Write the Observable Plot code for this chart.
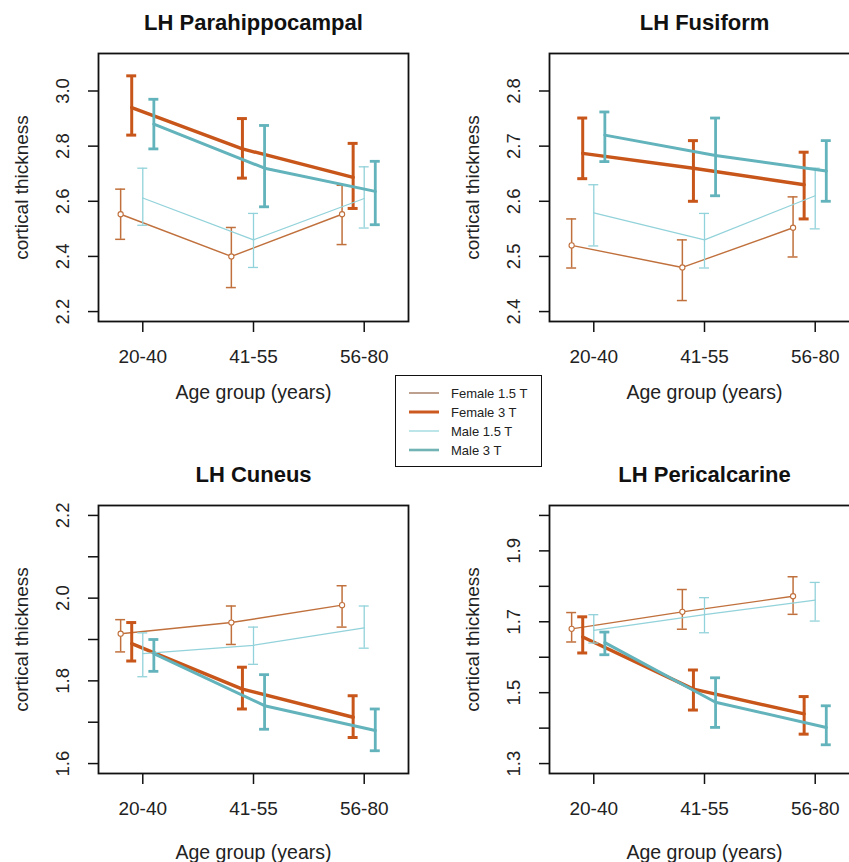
<!DOCTYPE html>
<html>
<head>
<meta charset="utf-8">
<script src="https://cdn.jsdelivr.net/npm/d3@7"></script>
<script src="https://cdn.jsdelivr.net/npm/@observablehq/plot@0.6"></script>
<style>
  html, body { margin: 0; padding: 0; background: #fff; }
  #root { position: relative; width: 849px; height: 862px; overflow: hidden; background: #fff;
          font-family: "Liberation Sans", Arial, sans-serif; }
  .panel { position: absolute; width: 430px; height: 410px; }
  .panel svg { max-width: none !important; }
  #legend { position: absolute; left: 395px; top: 375px; width: 145px; height: 90px;
            border: 1.5px solid #111; background: #fff; }
</style>
</head>
<body>
<div id="root"></div>
<script>
// ---------- data ----------
const categories = ["20-40", "41-55", "56-80"];
const seriesNames = ["Female 1.5 T", "Female 3 T", "Male 1.5 T", "Male 3 T"];
const seriesColors = ["#c0703c", "#c8561a", "#92d2da", "#62b3bb"];
const regionTitles = ["LH Parahippocampal", "LH Fusiform", "LH Cuneus", "LH Pericalcarine"];

// rows: Female 1.5 T, Female 3 T, Male 1.5 T, Male 3 T ; columns: age groups
const parahippocampalMean = [[2.553, 2.400, 2.553], [2.940, 2.790, 2.687], [2.612, 2.460, 2.610], [2.880, 2.720, 2.636]];
const parahippocampalLow  = [[2.462, 2.287, 2.443], [2.840, 2.684, 2.574], [2.513, 2.360, 2.503], [2.790, 2.580, 2.515]];
const parahippocampalHigh = [[2.644, 2.505, 2.658], [3.055, 2.900, 2.810], [2.720, 2.556, 2.725], [2.970, 2.875, 2.745]];

const fusiformMean = [[2.520, 2.480, 2.552], [2.687, 2.660, 2.630], [2.579, 2.530, 2.610], [2.720, 2.683, 2.655]];
const fusiformLow  = [[2.479, 2.420, 2.499], [2.641, 2.600, 2.568], [2.519, 2.479, 2.550], [2.672, 2.610, 2.600]];
const fusiformHigh = [[2.568, 2.530, 2.608], [2.751, 2.710, 2.689], [2.630, 2.578, 2.660], [2.762, 2.751, 2.710]];

const cuneusMean = [[1.914, 1.941, 1.983], [1.890, 1.780, 1.712], [1.866, 1.886, 1.928], [1.866, 1.740, 1.680]];
const cuneusLow  = [[1.870, 1.888, 1.930], [1.848, 1.732, 1.663], [1.810, 1.840, 1.879], [1.823, 1.683, 1.631]];
const cuneusHigh = [[1.948, 1.981, 2.030], [1.941, 1.833, 1.764], [1.916, 1.930, 1.981], [1.900, 1.815, 1.732]];

const pericalcarineMean = [[1.680, 1.728, 1.772], [1.657, 1.510, 1.440], [1.676, 1.720, 1.761], [1.641, 1.473, 1.402]];
const pericalcarineLow  = [[1.643, 1.679, 1.721], [1.612, 1.451, 1.383], [1.640, 1.669, 1.702], [1.607, 1.402, 1.353]];
const pericalcarineHigh = [[1.726, 1.791, 1.827], [1.714, 1.564, 1.489], [1.720, 1.768, 1.811], [1.671, 1.542, 1.463]];

const parahippocampalTicks = [2.2, 2.4, 2.6, 2.8, 3.0];
const parahippocampalTickLabels = [2.2, 2.4, 2.6, 2.8, 3.0];
const fusiformTicks = [2.4, 2.5, 2.6, 2.7, 2.8];
const fusiformTickLabels = [2.4, 2.5, 2.6, 2.7, 2.8];
const cuneusTicks = [1.6, 1.7, 1.8, 1.9, 2.0, 2.1, 2.2];
const cuneusTickLabels = [1.6, 1.8, 2.0, 2.2];
const pericalcarineTicks = [1.3, 1.4, 1.5, 1.6, 1.7, 1.8, 1.9, 2.0];
const pericalcarineTickLabels = [1.3, 1.5, 1.7, 1.9];

// ---------- styling ----------
const xOffsets = [-0.2, -0.1, 0, 0.1];
const lineWidths = [1.4, 3.4, 1.2, 3.0];
const barWidths = [1.5, 3.0, 1.3, 2.8];
const capHalf = 0.045;
const FONT = '"Liberation Sans", Arial, sans-serif';

const panels = [
  {title: regionTitles[0], mean: parahippocampalMean, lo: parahippocampalLow, hi: parahippocampalHigh,
   domain: [2.164, 3.136], ticks: parahippocampalTicks, labels: parahippocampalTickLabels, left: 0, top: 0, xLabelDy: 71},
  {title: regionTitles[1], mean: fusiformMean, lo: fusiformLow, hi: fusiformHigh,
   domain: [2.382, 2.868], ticks: fusiformTicks, labels: fusiformTickLabels, left: 451, top: 0, xLabelDy: 71},
  {title: regionTitles[2], mean: cuneusMean, lo: cuneusLow, hi: cuneusHigh,
   domain: [1.576, 2.224], ticks: cuneusTicks, labels: cuneusTickLabels, left: 0, top: 452, xLabelDy: 79},
  {title: regionTitles[3], mean: pericalcarineMean, lo: pericalcarineLow, hi: pericalcarineHigh,
   domain: [1.272, 2.028], ticks: pericalcarineTicks, labels: pericalcarineTickLabels, left: 451, top: 452, xLabelDy: 79}
];

const root = document.getElementById("root");

for (const p of panels) {
  const marks = [];
  for (let s = 0; s < seriesNames.length; s++) {
    const rows = categories.map((c, i) => ({
      x: i + 1 + xOffsets[s], mean: p.mean[s][i], lo: p.lo[s][i], hi: p.hi[s][i]
    }));
    const col = seriesColors[s];
    marks.push(Plot.ruleX(rows, {x: "x", y1: "lo", y2: "hi", stroke: col, strokeWidth: barWidths[s]}));
    marks.push(Plot.ruleY(rows, {y: "hi", x1: d => d.x - capHalf, x2: d => d.x + capHalf, stroke: col, strokeWidth: barWidths[s]}));
    marks.push(Plot.ruleY(rows, {y: "lo", x1: d => d.x - capHalf, x2: d => d.x + capHalf, stroke: col, strokeWidth: barWidths[s]}));
    marks.push(Plot.line(rows, {x: "x", y: "mean", stroke: col, strokeWidth: lineWidths[s]}));
    if (s === 0) {
      marks.push(Plot.dot(rows, {x: "x", y: "mean", r: 2.6, stroke: col, fill: "white", strokeWidth: 1.1}));
    }
  }
  marks.push(
    Plot.frame({stroke: "#111", strokeWidth: 1.8}),
    Plot.axisY({ticks: p.ticks, tickSize: 10, tickFormat: () => "", label: null, stroke: "#111", strokeWidth: 1.5}),
    Plot.text(p.labels, {y: d => d, text: d => d.toFixed(1), frameAnchor: "left", dx: -35, rotate: -90,
      fontSize: 18.5, textAnchor: "middle", lineAnchor: "middle", fill: "#222"}),
    Plot.axisX({ticks: [1, 2, 3], tickSize: 11, tickFormat: () => "", label: null, stroke: "#111", strokeWidth: 1.5}),
    Plot.text(categories, {x: (d, i) => i + 1, text: d => d, frameAnchor: "bottom", dy: 35,
      fontSize: 19, lineAnchor: "middle", fill: "#222"}),
    Plot.text(["Age group (years)"], {frameAnchor: "bottom", dy: p.xLabelDy, fontSize: 19.5, lineAnchor: "middle", fill: "#222"}),
    Plot.text(["cortical thickness"], {frameAnchor: "left", dx: -77, rotate: -90, fontSize: 19,
      textAnchor: "middle", lineAnchor: "middle", fill: "#222"}),
    Plot.text([p.title], {frameAnchor: "top", dy: -31, fontSize: 22, fontWeight: "bold", lineAnchor: "middle", fill: "#111"})
  );
  const svg = Plot.plot({
    width: 430, height: 410,
    marginLeft: 98, marginRight: 22, marginTop: 53, marginBottom: 89,
    x: {domain: [0.6, 3.4], axis: null},
    y: {domain: p.domain, axis: null},
    style: {fontFamily: FONT, background: "transparent", overflow: "visible", maxWidth: "none"},
    marks
  });
  svg.style.maxWidth = "none";
  const wrap = document.createElement("div");
  wrap.className = "panel";
  wrap.style.left = p.left + "px";
  wrap.style.top = p.top + "px";
  wrap.appendChild(svg);
  root.appendChild(wrap);
}

// ---------- legend ----------
const legendWidths = [1.5, 3.0, 1.5, 2.6];
const legendColors = ["#a88068", "#cc5a20", "#a6dde2", "#72b4b6"];
const legend = document.createElement("div");
legend.id = "legend";
const lsvg = d3.create("svg").attr("width", 145).attr("height", 90);
seriesNames.forEach((name, i) => {
  const y = 17 + i * 19;
  lsvg.append("line").attr("x1", 13).attr("x2", 43).attr("y1", y).attr("y2", y)
    .attr("stroke", legendColors[i]).attr("stroke-width", legendWidths[i]);
  lsvg.append("text").attr("x", 55).attr("y", y).attr("dy", "0.35em")
    .attr("font-family", FONT).attr("font-size", 13).attr("fill", "#222").text(name);
});
legend.appendChild(lsvg.node());
root.appendChild(legend);
</script>
</body>
</html>
